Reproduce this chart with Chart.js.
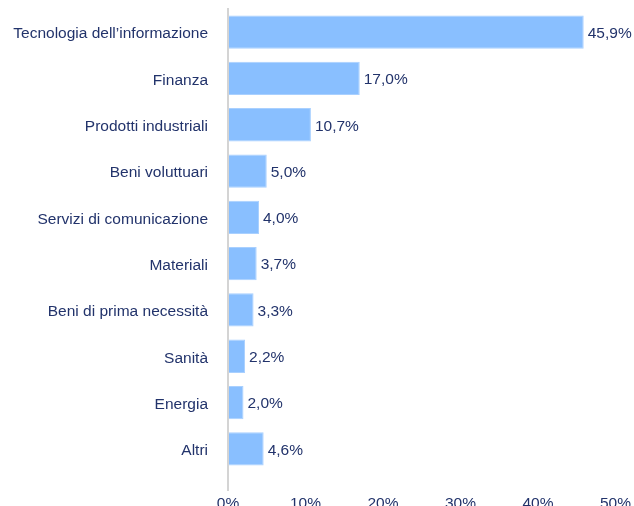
<!DOCTYPE html>
<html>
<head>
<meta charset="utf-8">
<script src="https://cdn.jsdelivr.net/npm/chart.js@4"></script>
<style>
  html, body { margin: 0; padding: 0; overflow: hidden; background: #fff; }
  #wrap { position: relative; width: 634px; height: 512px; }
</style>
</head>
<body>
<div id="wrap"><canvas id="chart"></canvas></div>
<script>
const categories = [
    "Tecnologia dell\u2019informazione",
    "Finanza",
    "Prodotti industriali",
    "Beni voluttuari",
    "Servizi di comunicazione",
    "Materiali",
    "Beni di prima necessità",
    "Sanità",
    "Energia",
    "Altri"
];
const weights = [45.9, 17.0, 10.7, 5.0, 4.0, 3.7, 3.3, 2.2, 2.0, 4.6];
const xTicks = [0, 10, 20, 30, 40, 50];

const textColor = "#22336b";
const axisColor = "#d4d4d4";
const fontFamily = "'Liberation Sans', Arial, sans-serif";
const fmt = v => v.toFixed(1).replace(".", ",") + "%";

// etichette a destra delle barre
const valueLabels = {
    id: "valueLabels",
    afterDatasetsDraw(chart) {
        const ctx = chart.ctx;
        const meta = chart.getDatasetMeta(0);
        ctx.save();
        ctx.font = "15.5px " + fontFamily;
        ctx.fillStyle = textColor;
        ctx.textAlign = "left";
        ctx.textBaseline = "middle";
        meta.data.forEach((bar, i) => {
            ctx.fillText(fmt(weights[i]), bar.x + 4, bar.y + 1.5);
        });
        ctx.restore();
    }
};

new Chart(document.getElementById("chart").getContext("2d"), {
    type: "bar",
    data: {
        labels: categories,
        datasets: [{
            data: weights,
            backgroundColor: "#89bfff",
            borderColor: "#a9d0ff",
            borderWidth: 1,
            categoryPercentage: 1,
            barPercentage: 0.72
        }]
    },
    options: {
        indexAxis: "y",
        responsive: true,
        maintainAspectRatio: false,
        animation: false,
        layout: { padding: { top: 9, right: 17, left: 0, bottom: 0 } },
        plugins: { legend: { display: false }, tooltip: { enabled: false } },
        scales: {
            y: {
                grid: { display: false, drawTicks: false },
                border: { display: true, color: axisColor, width: 2 },
                ticks: {
                    color: textColor,
                    padding: 20,
                    labelOffset: 2,
                    font: { family: fontFamily, size: 15.5 }
                },
                afterFit(scale) {
                    scale.width = 228;
                    scale.paddingTop = 0;
                    scale.paddingBottom = 0;
                }
            },
            x: {
                min: 0,
                max: 50,
                afterBuildTicks(scale) { scale.ticks = xTicks.map(v => ({ value: v })); },
                grid: {
                    drawOnChartArea: false,
                    drawTicks: true,
                    tickLength: 19,
                    lineWidth: 2,
                    color: c => (c.tick && c.tick.value === 0 ? axisColor : "rgba(0,0,0,0)")
                },
                border: { display: false },
                ticks: {
                    color: textColor,
                    padding: 3,
                    maxRotation: 0,
                    font: { family: fontFamily, size: 15.5 },
                    callback: v => v + "%"
                },
                afterFit(scale) { scale.height = 40; }
            }
        }
    },
    plugins: [valueLabels]
});
</script>
</body>
</html>
